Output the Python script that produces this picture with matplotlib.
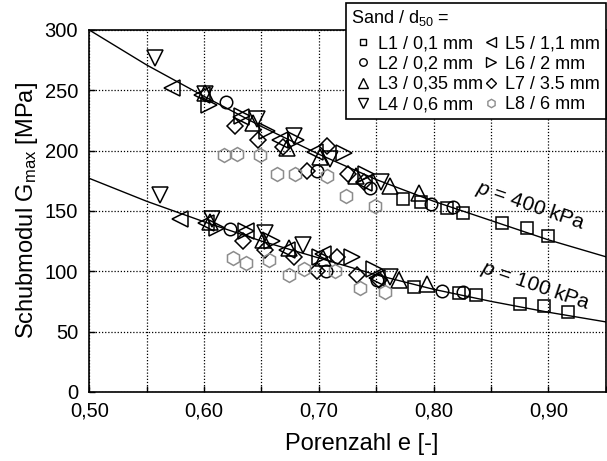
import matplotlib
matplotlib.use("Agg")
import matplotlib.pyplot as plt
import numpy as np

plt.rcParams['font.family'] = ['Liberation Sans', 'DejaVu Sans']
plt.rcParams['mathtext.fontset'] = 'custom'
plt.rcParams['mathtext.rm'] = 'Liberation Sans'
plt.rcParams['mathtext.it'] = 'Liberation Sans:italic'

# fitted curves
curve_e = [0.50, 0.55, 0.60, 0.65, 0.70, 0.75, 0.80, 0.85, 0.90, 0.95]
curve_400 = [300, 271, 245, 220, 197, 176, 158, 142, 126, 112]
curve_100 = [177, 158, 141, 125, 111, 97, 85, 75, 66, 58]

# measurements per sand: (e, G) at p = 400 kPa and p = 100 kPa
L1_e400 = [0.773, 0.789, 0.812, 0.826, 0.860, 0.881, 0.900]
L1_g400 = [160, 157, 152, 148, 140, 136, 129]
L1_e100 = [0.783, 0.822, 0.837, 0.875, 0.896, 0.917]
L1_g100 = [87, 82, 80, 73, 71, 66]

L2_e400 = [0.619, 0.698, 0.745, 0.798, 0.817]
L2_g400 = [240, 183, 169, 156, 153]
L2_e100 = [0.623, 0.706, 0.751, 0.807, 0.826]
L2_g100 = [135, 100, 93, 84, 83]

L3_e400 = [0.601, 0.643, 0.672, 0.701, 0.732, 0.762, 0.787]
L3_g400 = [248, 223, 202, 195, 179, 171, 165]
L3_e100 = [0.605, 0.651, 0.674, 0.704, 0.770, 0.794]
L3_g100 = [141, 126, 119, 111, 93, 89]

L4_e400 = [0.557, 0.601, 0.646, 0.678, 0.710, 0.754]
L4_g400 = [277, 247, 226, 212, 193, 174]
L4_e100 = [0.562, 0.607, 0.653, 0.686, 0.762]
L4_g100 = [163, 143, 132, 122, 95]

L5_e400 = [0.572, 0.598, 0.632, 0.666, 0.697, 0.739]
L5_g400 = [252, 246, 228, 209, 199, 173]
L5_e100 = [0.579, 0.602, 0.637, 0.672, 0.704, 0.751]
L5_g100 = [143, 140, 133, 118, 114, 94]

L6_e400 = [0.604, 0.633, 0.655, 0.680, 0.722, 0.741]
L6_g400 = [238, 229, 216, 209, 198, 181]
L6_e100 = [0.611, 0.637, 0.659, 0.701, 0.729, 0.748]
L6_g100 = [136, 133, 125, 112, 112, 102]

L7_e400 = [0.627, 0.647, 0.669, 0.690, 0.707, 0.725, 0.739]
L7_g400 = [220, 209, 203, 183, 204, 181, 174]
L7_e100 = [0.634, 0.653, 0.678, 0.698, 0.716, 0.733, 0.752]
L7_g100 = [125, 118, 112, 100, 112, 97, 93]

L8_e400 = [0.617, 0.629, 0.649, 0.664, 0.679, 0.707, 0.724, 0.749]
L8_g400 = [196, 197, 196, 181, 181, 179, 162, 154]
L8_e100 = [0.625, 0.637, 0.657, 0.674, 0.687, 0.714, 0.736, 0.758]
L8_g100 = [111, 107, 109, 97, 102, 100, 86, 83]

labels = ["L1 / 0,1 mm", "L2 / 0,2 mm", "L3 / 0,35 mm", "L4 / 0,6 mm",
          "L5 / 1,1 mm", "L6 / 2 mm", "L7 / 3.5 mm", "L8 / 6 mm"]
markers = ["s", "o", "^", "v", "<", ">", "D", "h"]
sizes = [8, 9, 11, 11, 11, 11, 8, 10]
colors = ["black"] * 7 + ["#8c8c8c"]

series = [
    (L1_e400, L1_g400, L1_e100, L1_g100),
    (L2_e400, L2_g400, L2_e100, L2_g100),
    (L3_e400, L3_g400, L3_e100, L3_g100),
    (L4_e400, L4_g400, L4_e100, L4_g100),
    (L5_e400, L5_g400, L5_e100, L5_g100),
    (L6_e400, L6_g400, L6_e100, L6_g100),
    (L7_e400, L7_g400, L7_e100, L7_g100),
    (L8_e400, L8_g400, L8_e100, L8_g100),
]

fig = plt.figure(figsize=(6.07, 4.61), dpi=100)
ax = fig.add_axes([0.147, 0.150, 0.851, 0.785])

ax.plot(curve_e, curve_400, color="black", lw=1.0, zorder=3)
ax.plot(curve_e, curve_100, color="black", lw=1.0, zorder=3)

handles = []
for (e4, g4, e1, g1), lab, m, ms, c in zip(series, labels, markers, sizes, colors):
    ax.plot(e4 + e1, g4 + g1, ls="none", marker=m, ms=ms, mfc="none",
            mec=c, mew=1.1, zorder=4)
    h, = ax.plot([], [], ls="none", marker=m, ms=ms * 0.6, mfc="none",
                 mec=c, mew=1.0, label=lab)
    handles.append(h)

ax.set_xlim(0.5, 0.95)
ax.set_ylim(0, 300)
ax.set_xticks(np.arange(0.5, 0.91, 0.1))
ax.set_xticklabels(["0,50", "0,60", "0,70", "0,80", "0,90"])
ax.set_xticks(np.arange(0.55, 0.951, 0.1), minor=True)
ax.set_yticks(np.arange(0, 301, 50))
ax.tick_params(which="both", direction="in", length=4, width=1, labelsize=14.5)
ax.tick_params(axis="y", pad=8)
ax.tick_params(axis="x", pad=7)
ax.grid(True, which="both", ls=(0, (1, 1.5)), color="black", lw=0.9)
for s in ax.spines.values():
    s.set_linewidth(1.2)

ax.set_xlabel("Porenzahl e [-]", fontsize=17)
ax.xaxis.set_label_coords(0.528, -0.115)
ax.set_ylabel("Schubmodul G$_{\\mathrm{max}}$ [MPa]", fontsize=17, labelpad=3)

ax.text(0.885, 154, "$p$ = 400 kPa", rotation=-19, fontsize=15,
        ha="center", va="center", zorder=5)
ax.text(0.889, 88, "$p$ = 100 kPa", rotation=-19, fontsize=15,
        ha="center", va="center", zorder=5)

leg = fig.legend(handles=handles, ncol=2, title="Sand / d$_{50}$ =",
                 loc="upper right", bbox_to_anchor=(605.5 / 607, 1 - 3 / 461),
                 fontsize=13, title_fontsize=13, frameon=True, fancybox=False,
                 edgecolor="black", framealpha=1, borderpad=0.3,
                 labelspacing=0.18, handletextpad=0.15, columnspacing=-0.2,
                 handlelength=1.3, borderaxespad=0)
leg._legend_box.align = "left"
leg._legend_box.sep = 5
leg.get_frame().set_linewidth(1.2)
leg.set_zorder(10)

fig.savefig("out.png", dpi=100)
